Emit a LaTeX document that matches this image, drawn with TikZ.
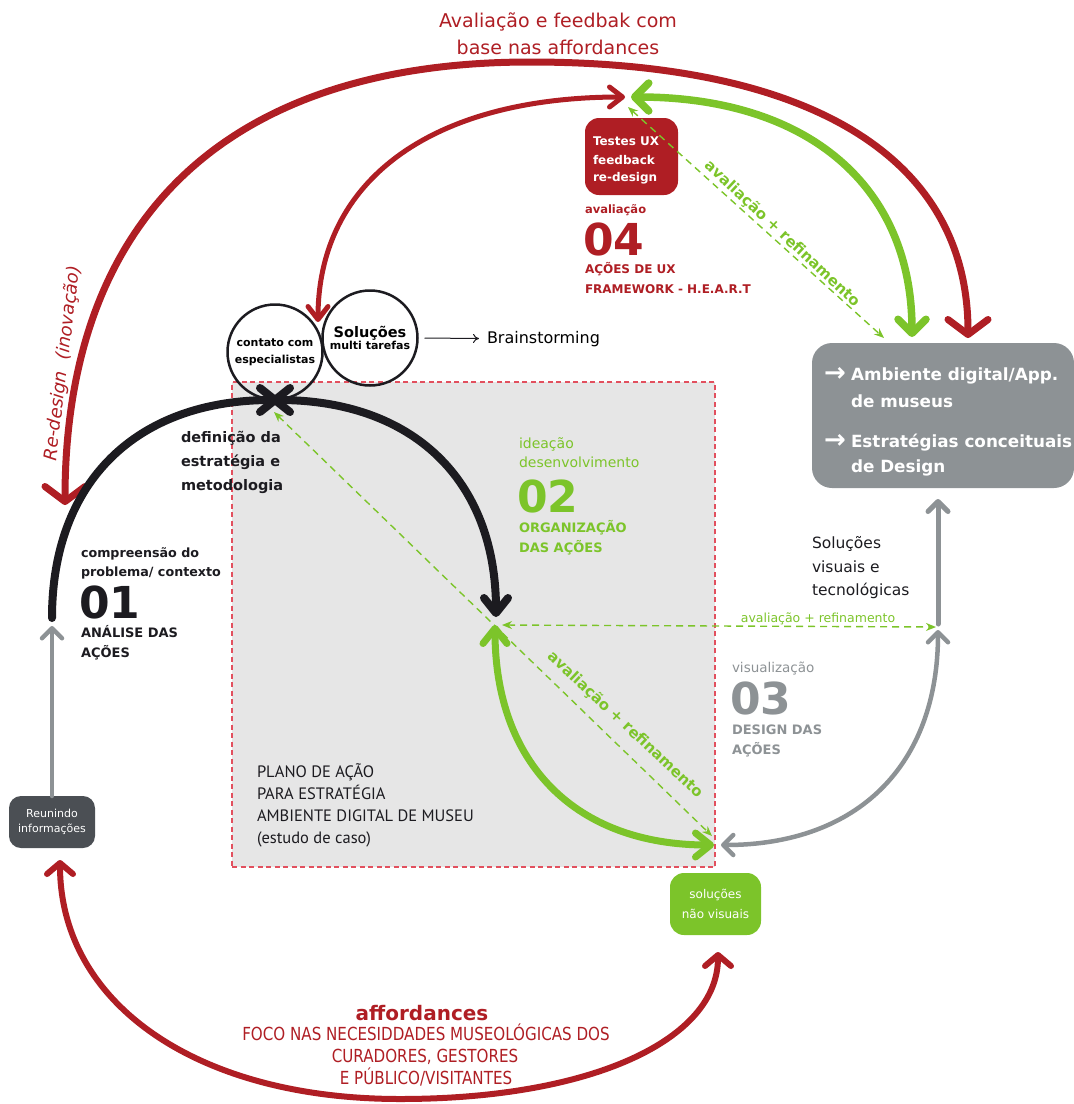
\documentclass[tikz,border=0pt]{standalone}
\usepackage{fontspec}
\setmainfont{DejaVu Sans}
\newfontfamily\narrowfont[FakeStretch=0.84]{DejaVu Sans}
\newfontfamily\planfont{PT Sans}
\usetikzlibrary{arrows.meta}
\definecolor{mred}{HTML}{AF1E24}
\definecolor{mgreen}{HTML}{7CC42A}
\definecolor{mblack}{HTML}{1C1B20}
\definecolor{mgray}{HTML}{8D9295}
\definecolor{mdark}{HTML}{4B4F54}
\definecolor{mpanel}{HTML}{E6E6E6}
\definecolor{mdash}{HTML}{E2505E}
\newcommand\fsz[2]{\fontsize{#1}{#2}\selectfont}
\newcommand\bul{\makebox[27pt][l]{\fsz{26}{20}\raisebox{-1.5pt}{→}}}
\tikzset{
  tRbig/.tip={Straight Barb[round,length=15pt,width=40pt]},
  tRin/.tip={Straight Barb[round,length=13pt,width=20pt]},
  tRbot/.tip={Straight Barb[round,length=11pt,width=26pt]},
  tG/.tip={Straight Barb[round,length=14pt,width=28pt]},
  tK/.tip={Straight Barb[round,length=15pt,width=24pt]},
  tGr/.tip={Straight Barb[round,length=10pt,width=20pt]},
  tD/.tip={Stealth[length=10pt,width=8pt]},
}
\begin{document}
\begin{tikzpicture}[x=1pt,y=-1pt,
  every node/.style={inner sep=0pt,outer sep=0pt},
  txt/.style={anchor=base west},
  ctr/.style={anchor=base},
  arc/.style={line cap=round,line join=round},
  gdash/.style={mgreen,line width=1.4pt,dash pattern=on 7pt off 5pt},
  bignum/.style={anchor=base west,font=\bfseries\fsz{44}{44}},
  rbox/.style={rounded corners=#1,draw=none},
  ring/.style={circle,draw=mblack,line width=2.5pt,minimum size=95pt,align=center},
]
\useasboundingbox (0,0) rectangle (1074,1104);

% action plan panel
\node[fill=mpanel,draw=mdash,line width=1.3pt,dash pattern=on 5pt off 3.5pt,
      minimum width=483,minimum height=485,anchor=north west] (panel) at (232,382) {};

% circles
\node[ring,font=\bfseries\fsz{11}{17}] (c1) at (275,352) {contato com\\especialistas};
\node[ring] (c2) at (370,338) {{\bfseries\fsz{14.5}{17}Soluções}\\{\bfseries\fsz{11}{16}multi tarefas}};
\node[txt,font=\fsz{16}{19}] (brain) at (487,343) {Brainstorming};
\draw[mblack,line width=1pt,-{To[length=6pt,width=9pt]},shorten >=8pt] ([xshift=7pt]c2.east) -- (brain.west);

% boxes
\node[rbox=14pt,fill=mred,minimum width=93,minimum height=77] (testes) at (631.5,156.5) {};
\node[rbox=20pt,fill=mgray,minimum width=262,minimum height=145] (app) at (943,415.5) {};
\node[rbox=12pt,fill=mdark,minimum width=86,minimum height=52,text=white,align=center,font=\fsz{11}{15}] (reun) at (52,822) {Reunindo\\informações};
\node[rbox=14pt,fill=mgreen,minimum width=91,minimum height=62,text=white,align=center,font=\fsz{12}{20}] (naovis) at (715.5,904) {soluções\\não visuais};

% outer red loop
\coordinate (oL) at (65,505);
\coordinate (oTop) at (530,62);
\coordinate (oR) at (968,338);
\draw[mred,line width=7pt,arc,tRbig-tRbig] (oL) .. controls (65,217) and (228,62) .. (oTop) .. controls (815,62) and (968,160) .. (oR);

% inner red loop
\coordinate (iA) at (318,322);
\coordinate (iB) at (625,97);
\draw[mred,line width=5pt,arc,tRin-tRin] (iA) .. controls (318,180) and (432,97) .. (iB);

% green upper loop
\coordinate (gA) at (631,97);
\coordinate (gB) at (912,337);
\draw[mgreen,line width=7.5pt,arc,tG-tG] (gA) .. controls (808,97) and (912,186) .. (gB);

% black loops
\coordinate (kS) at (52,618);
\coordinate (kX1) at (279,400);
\coordinate (kX2) at (271,400);
\coordinate (kD) at (496,617);
\draw[mblack,line width=8pt,arc,-tK] (kS) .. controls (52,481) and (137,400) .. (kX1);
\draw[mblack,line width=8pt,arc,tK-tK] (kX2) .. controls (413,400) and (496,480) .. (kD);

% green lower loop
\coordinate (gU) at (495,625);
\coordinate (gE) at (714,845);
\draw[mgreen,line width=7pt,arc,tK-tK] (gU) .. controls (495,764) and (576,845) .. (gE);

% grey loop
\coordinate (yU) at (938,630);
\coordinate (yE) at (721,845);
\coordinate (yV) at (938,624);
\coordinate (yTop) at (938,499);
\draw[mgray,line width=4.5pt,arc,tGr-tGr] (yU) .. controls (938,765) and (858,845) .. (yE);
\draw[mgray,line width=5pt,arc,-tGr] (yV) -- (yTop);

% gathering information
\coordinate (rTip) at (52,626);
\draw[mgray,line width=4.5pt,arc,-tGr] (reun.north) -- (rTip);

% bottom red loop
\coordinate (bL) at (60,860);
\coordinate (bBot) at (400,1099);
\coordinate (bR) at (718,952);
\draw[mred,line width=6pt,arc,tRbot-tRbot] (bL) .. controls (60,1003) and (196,1099) .. (bBot) .. controls (591,1099) and (718,1040) .. (bR);

% evaluation + refinement links
\coordinate (d1a) at (628,107);
\coordinate (d1b) at (884,338);
\coordinate (d2a) at (274,412);
\coordinate (d2b) at (712,836);
\coordinate (d3a) at (502,625);
\coordinate (d3b) at (936,627);
\draw[gdash,tD-tD] (d1a) -- (d1b);
\draw[gdash,tD-tD] (d2a) -- (d2b);
\draw[gdash,tD-tD] (d3a) -- (d3b);
\node[mgreen,rotate=-43,font=\bfseries\fsz{15}{18}] (ar1) at (782,234) {avaliação + refinamento};
\node[mgreen,rotate=-43,font=\bfseries\fsz{15}{18}] (ar2) at (625,725) {avaliação + refinamento};
\node[ctr,mgreen,font=\fsz{12.5}{15}] (ar3) at (818,622) {avaliação + refinamento};

% title
\node[ctr,mred,font=\fsz{19}{23}] (title1) at (558,27) {Avaliação e feedbak com};
\node[ctr,mred,font=\fsz{19}{23}] (title2) at (558,54) {base nas affordances};

% re-design
\node[mred,rotate=83,font=\itshape\fsz{18}{20}] (redesign) at (63,363) {Re-design \ (inovação)};

% stage 04
\node[txt,white,font=\bfseries\fsz{12}{14}] (t1) at (593,145) {Testes UX};
\node[txt,white,font=\bfseries\fsz{12}{14}] (t2) at (593,164) {feedback};
\node[txt,white,font=\bfseries\fsz{12}{14}] (t3) at (593,181) {re-design};
\node[txt,mred,font=\bfseries\fsz{11.5}{14}] (s4a) at (585,213) {avaliação};
\node[bignum,mred] (s4n) at (583,255) {04};
\node[txt,mred,font=\bfseries\fsz{12}{14}] (s4b) at (585,273) {AÇÕES DE UX};
\node[txt,mred,font=\bfseries\fsz{12}{14}] (s4c) at (585,293) {FRAMEWORK - H.E.A.R.T};

% strategy
\node[txt,mblack,font=\bfseries\fsz{14.5}{17}] (def1) at (181,442) {definição da};
\node[txt,mblack,font=\bfseries\fsz{14.5}{17}] (def2) at (181,466) {estratégia e};
\node[txt,mblack,font=\bfseries\fsz{14.5}{17}] (def3) at (181,490) {metodologia};

% stage 02
\node[txt,mgreen,font=\fsz{14}{16}] (s2a) at (519,448) {ideação};
\node[txt,mgreen,font=\fsz{14}{16}] (s2b) at (519,467) {desenvolvimento};
\node[bignum,mgreen] (s2n) at (517,512) {02};
\node[txt,mgreen,font=\bfseries\fsz{13}{15}] (s2c) at (519,532) {ORGANIZAÇÃO};
\node[txt,mgreen,font=\bfseries\fsz{13}{15}] (s2d) at (519,552) {DAS AÇÕES};

% stage 01
\node[txt,mblack,font=\bfseries\fsz{12.7}{15}] (s1a) at (81,557) {compreensão do};
\node[txt,mblack,font=\bfseries\fsz{12.7}{15}] (s1b) at (81,576) {problema/ contexto};
\node[bignum,mblack] (s1n) at (79,618) {01};
\node[txt,mblack,font=\bfseries\fsz{13}{15}] (s1c) at (81,637) {ANÁLISE DAS};
\node[txt,mblack,font=\bfseries\fsz{13}{15}] (s1d) at (81,657) {AÇÕES};

% stage 03
\node[txt,mgray,font=\fsz{13.5}{16}] (s3a) at (732,672) {visualização};
\node[bignum,mgray] (s3n) at (730,714) {03};
\node[txt,mgray,font=\bfseries\fsz{13}{15}] (s3c) at (732,734) {DESIGN DAS};
\node[txt,mgray,font=\bfseries\fsz{13}{15}] (s3d) at (732,754) {AÇÕES};

% visual solutions
\node[txt,mblack,font=\fsz{15.5}{18}] (vis1) at (812,548) {Soluções};
\node[txt,mblack,font=\fsz{15.5}{18}] (vis2) at (812,572) {visuais e};
\node[txt,mblack,font=\fsz{15.5}{18}] (vis3) at (812,595) {tecnológicas};

% results box text
\node[txt,white,font=\bfseries\fsz{16.8}{20}] (ap1) at (824,380) {\bul Ambiente digital/App.};
\node[txt,white,font=\bfseries\fsz{16.8}{20}] (ap2) at (851,407) {de museus};
\node[txt,white,font=\bfseries\fsz{16.8}{20}] (ap3) at (824,447) {\bul Estratégias conceituais};
\node[txt,white,font=\bfseries\fsz{16.8}{20}] (ap4) at (851,472) {de Design};

% action plan
\node[txt,mblack,font=\planfont\fsz{16.5}{18}] (pl1) at (257,777) {PLANO DE AÇÃO};
\node[txt,mblack,font=\planfont\fsz{16.5}{18}] (pl2) at (257,799) {PARA ESTRATÉGIA};
\node[txt,mblack,font=\planfont\fsz{16.5}{18}] (pl3) at (257,821) {AMBIENTE DIGITAL DE MUSEU};
\node[txt,mblack,font=\planfont\fsz{16.5}{18}] (pl4) at (257,843) {(estudo de caso)};

% affordances
\node[ctr,mred,font=\bfseries\fsz{20}{24}] (aff) at (422,1020) {affordances};
\node[ctr,mred,font=\narrowfont\fsz{18}{20}] (aff1) at (426,1040) {FOCO NAS NECESIDDADES MUSEOLÓGICAS DOS};
\node[ctr,mred,font=\narrowfont\fsz{18}{20}] (aff2) at (425,1062) {CURADORES, GESTORES};
\node[ctr,mred,font=\narrowfont\fsz{18}{20}] (aff3) at (426,1084) {E PÚBLICO/VISITANTES};
\end{tikzpicture}
\end{document}
